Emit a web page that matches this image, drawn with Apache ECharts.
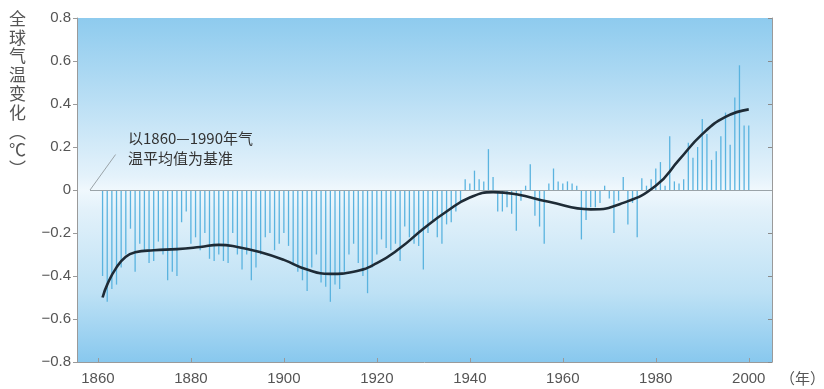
<!DOCTYPE html>
<html>
<head>
<meta charset="utf-8">
<script src="https://cdn.jsdelivr.net/npm/echarts@6/dist/echarts.min.js"></script>
<style>
html,body{margin:0;padding:0;background:#fff;}
#c{width:824px;height:389px;}
</style>
</head>
<body>
<div id="c"></div>
<script>
// ---- data ----
const firstYear = 1861;
const anomalies = [
  -0.40,-0.52,-0.46,-0.44,-0.36,-0.30,-0.18,-0.38,-0.25,-0.28,   // 1861-1870
  -0.34,-0.33,-0.24,-0.30,-0.42,-0.38,-0.40,-0.15,-0.10,-0.25,   // 1871-1880
  -0.22,-0.28,-0.20,-0.32,-0.33,-0.30,-0.33,-0.34,-0.20,-0.30,   // 1881-1890
  -0.37,-0.30,-0.42,-0.36,-0.30,-0.22,-0.20,-0.28,-0.25,-0.20,   // 1891-1900
  -0.26,-0.35,-0.38,-0.42,-0.47,-0.36,-0.30,-0.43,-0.45,-0.52,   // 1901-1910
  -0.44,-0.46,-0.38,-0.30,-0.25,-0.34,-0.40,-0.48,-0.36,-0.30,   // 1911-1920
  -0.23,-0.27,-0.28,-0.25,-0.33,-0.17,-0.22,-0.25,-0.26,-0.37,   // 1921-1930
  -0.20,-0.14,-0.22,-0.25,-0.16,-0.15,-0.10,-0.06, 0.05, 0.03,   // 1931-1940
   0.09, 0.05, 0.04, 0.19, 0.06,-0.10,-0.10,-0.08,-0.11,-0.19,   // 1941-1950
  -0.05, 0.02, 0.12,-0.12,-0.17,-0.25, 0.03, 0.10, 0.04, 0.03,   // 1951-1960
   0.04, 0.03, 0.02,-0.23,-0.14,-0.08,-0.08,-0.06, 0.02,-0.04,   // 1961-1970
  -0.20,-0.05, 0.06,-0.16,-0.06,-0.22, 0.055,0.02, 0.05, 0.10,   // 1971-1980
   0.13, 0.02, 0.25, 0.04, 0.03, 0.05, 0.22, 0.15, 0.20, 0.33,   // 1981-1990
   0.26, 0.14, 0.18, 0.25, 0.36, 0.21, 0.43, 0.58, 0.30, 0.30    // 1991-2000
];
const curveYears  = [1861,1862,1864,1866,1868,1872,1877,1882,1886,1890,1895,1900,1905,1910,1915,1920,1925,1930,1935,1940,1945,1950,1957,1966,1973,1980,1985,1990,1995,2000];
const curveValues = [-0.50,-0.44,-0.36,-0.31,-0.29,-0.28,-0.275,-0.265,-0.255,-0.265,-0.29,-0.325,-0.37,-0.39,-0.38,-0.34,-0.27,-0.18,-0.10,-0.035,-0.01,-0.02,-0.055,-0.09,-0.06,0.02,0.14,0.26,0.34,0.375];
const xTickValues = [1860,1880,1900,1920,1940,1960,1980,2000];
const yName = '全\n球\n气\n温\n变\n化\n︵\n℃\n︶';
const xName = '（年）';
const noteText = '以1860—1990年气\n温平均值为基准';

// ---- chart ----
const barData = anomalies.map((v, i) => [firstYear + i, v]);
const curveData = curveYears.map((y, i) => [y, curveValues[i]]);

const chart = echarts.init(document.getElementById('c'), null, {renderer: 'canvas'});
const numFont = 'Liberation Sans';
const option = {
  animation: false,
  grid: {
    left: 77, right: 52, top: 18, bottom: 27,
    show: true, borderWidth: 0,
    backgroundColor: new echarts.graphic.LinearGradient(0, 0, 0, 1, [
      {offset: 0, color: '#8ecbee'},
      {offset: 0.22, color: '#b6ddf4'},
      {offset: 0.46, color: '#e4f2fb'},
      {offset: 0.5, color: '#f0f8fd'},
      {offset: 0.56, color: '#e2f1fa'},
      {offset: 0.8, color: '#bde1f5'},
      {offset: 1, color: '#88c8ee'}
    ])
  },
  xAxis: {
    type: 'value', min: 1855.5, max: 2005,
    axisLine: {show: true, onZero: false, lineStyle: {color: '#9a9a9a', width: 1}},
    axisTick: {show: true, inside: true, length: 4, customValues: xTickValues, lineStyle: {color: '#9a9a9a'}},
    axisLabel: {show: true, customValues: xTickValues, margin: 9, color: '#555', fontSize: 15, fontFamily: numFont,
      formatter: v => String(Math.round(v))},
    splitLine: {show: false}
  },
  yAxis: [{
    type: 'value', min: -0.8, max: 0.8, interval: 0.2,
    axisLine: {show: true, onZero: false, lineStyle: {color: '#9a9a9a', width: 1}},
    axisTick: {show: true, inside: false, length: 4, lineStyle: {color: '#9a9a9a'}},
    axisLabel: {
      color: '#555', fontSize: 15, fontFamily: numFont, margin: 6,
      formatter: v => Math.abs(v) < 1e-9 ? '0' : (v < 0 ? '−' + Math.abs(v).toFixed(1) : v.toFixed(1))
    },
    splitLine: {show: false}
  }, {
    type: 'value', min: -0.8, max: 0.8, interval: 0.2, position: 'right',
    axisLine: {show: true, onZero: false, lineStyle: {color: '#9a9a9a', width: 1}},
    axisTick: {show: true, inside: true, length: 4, lineStyle: {color: '#8a8a8a'}},
    axisLabel: {show: false},
    splitLine: {show: false}
  }],
  series: [{
    type: 'bar',
    data: barData,
    barWidth: 1.3,
    itemStyle: {color: '#5ab3df'},
    silent: true,
    markLine: {
      silent: true, symbol: 'none', label: {show: false},
      lineStyle: {color: '#9aa3a8', width: 1, type: 'solid'},
      data: [
        [{coord: [1858.3, 0]}, {coord: [2005, 0]}],
        [{coord: [1858.3, 0]}, {coord: [1863.8, 0.165]}]
      ]
    }
  }, {
    type: 'line',
    data: curveData,
    smooth: 0.5,
    symbol: 'none',
    lineStyle: {color: '#1e2b36', width: 2.6},
    z: 5
  }],
  graphic: [
    {type: 'text', left: 9, top: 9, style: {text: yName, fontSize: 17, lineHeight: 18.8, fill: '#555', fontFamily: 'Noto Sans CJK SC', align: 'center'}},
    {type: 'text', left: 780, top: 371, style: {text: xName, fontSize: 15, fill: '#555', fontFamily: 'Noto Sans CJK SC'}},
    {type: 'text', left: 128, top: 128, style: {text: noteText, fontSize: 15, lineHeight: 20, fill: '#333', fontFamily: 'Noto Sans CJK SC'}}
  ]
};
chart.setOption(option);
</script>
</body>
</html>
